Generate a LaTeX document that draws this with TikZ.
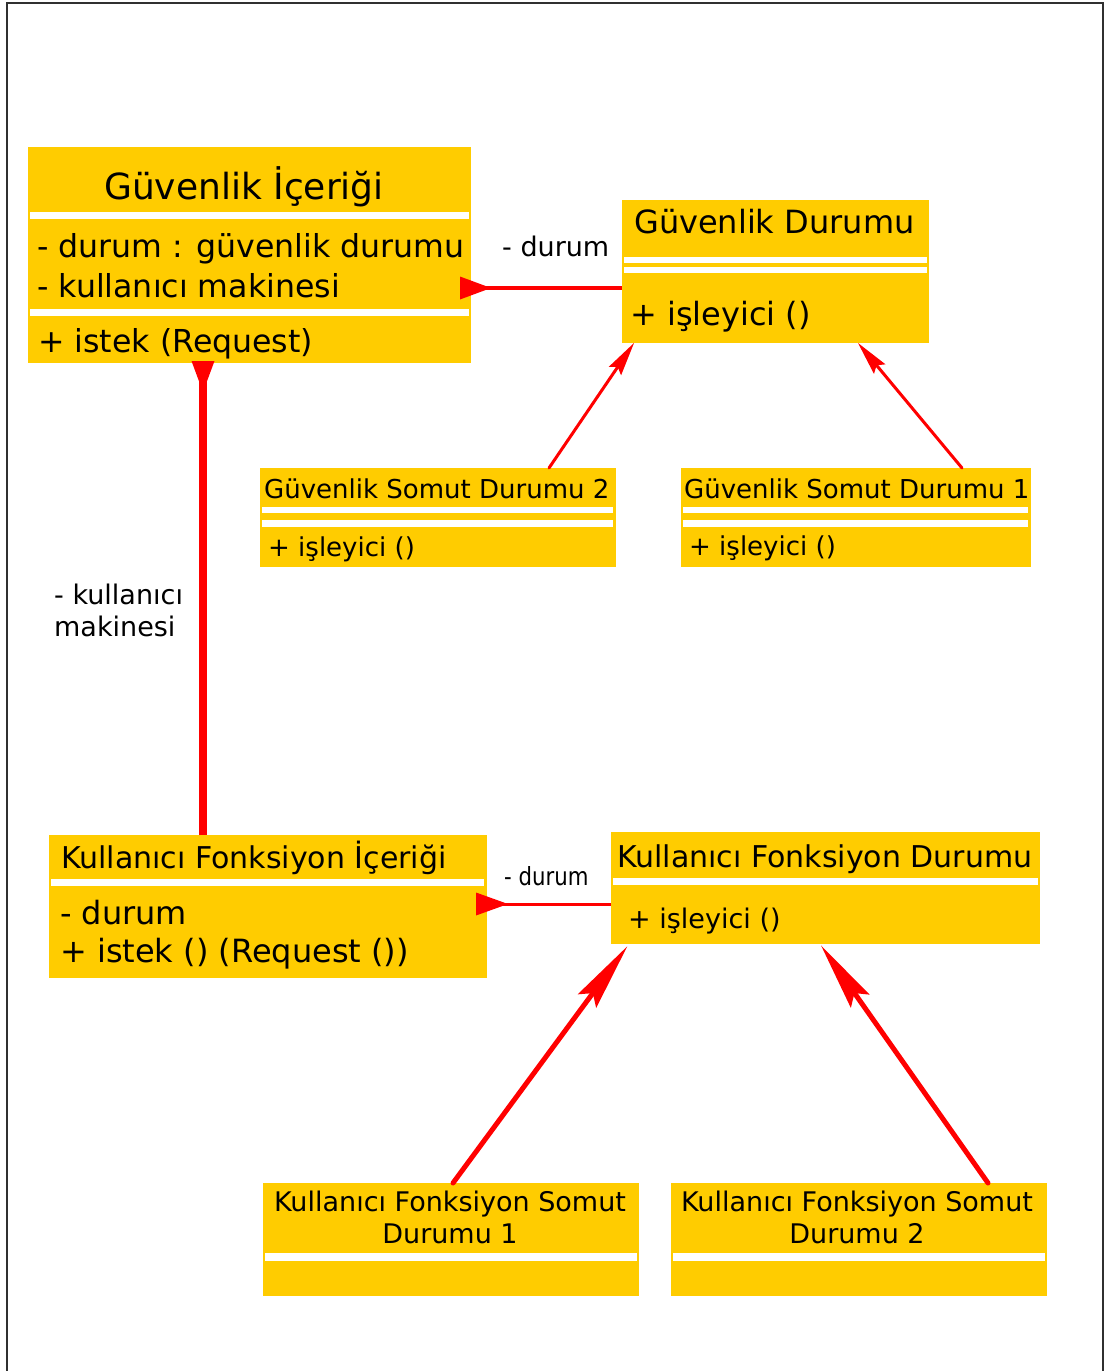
\documentclass[tikz,border=0pt]{standalone}
\usepackage{fontspec}
\setmainfont{DejaVu Sans}
\newfontfamily\condfont[FakeStretch=0.85]{DejaVu Sans}
\usetikzlibrary{arrows.meta,calc}
\definecolor{umlyellow}{HTML}{FFCC00}
\definecolor{umlred}{HTML}{FF0000}
\definecolor{framegray}{HTML}{303030}

% class rectangle: name, x1, y1, x2, y2
\newcommand\classrect[5]{%
  \node[classbox, minimum width={(#4-#2)*1pt}, minimum height={(#5-#3)*1pt}] (#1) at (#2,#3) {};}
% white separator stripe: x1, y1, x2, y2
\newcommand\sepline[4]{\fill[white] (#1,#2) rectangle (#3,#4);}
\newcommand\fs[1]{\fontsize{#1}{#1}\selectfont}

\begin{document}
\begin{tikzpicture}[x=1pt,y=-1pt,
  classbox/.style={fill=umlyellow, draw=none, inner sep=0pt, outer sep=0pt, anchor=north west},
  txt/.style={inner sep=0pt, anchor=base west, text=black},
  ctxt/.style={inner sep=0pt, anchor=base, text=black, align=center},
  assoc/.style={draw=umlred, line cap=butt},
  gen/.style={draw=umlred, line cap=round},
]
\useasboundingbox (0,0) rectangle (1105,1371);
\fill[white] (0,0) rectangle (1105,1371);

% outer frame
\draw[framegray, line width=2pt] (7,1371) -- (7,3) -- (1103,3) -- (1103,1371);

% ---- class rectangles ----
\classrect{b1}{28}{147}{471}{363}
\sepline{30}{212}{469}{219}
\sepline{30}{309}{469}{316}

\classrect{b2}{622}{200}{929}{343}
\sepline{624}{257}{927}{263}
\sepline{624}{267}{927}{273}

\classrect{b3}{260}{468}{616}{567}
\sepline{262}{507}{613}{513}
\sepline{262}{520}{613}{527}

\classrect{b4}{681}{468}{1031}{567}
\sepline{683}{507}{1028}{513}
\sepline{683}{520}{1028}{527}

\classrect{b5}{49}{835}{487}{978}
\sepline{51}{879}{484}{886}

\classrect{b6}{611}{832}{1040}{944}
\sepline{613}{878}{1038}{885}

\classrect{b7}{263}{1183}{639}{1296}
\sepline{265}{1253}{637}{1261}

\classrect{b8}{671}{1183}{1047}{1296}
\sepline{673}{1253}{1045}{1261}

% ---- associations (line, then end marker) ----
\draw[assoc, line width=4pt] (b2.west |- 0,288) -- (b1.east |- 0,288);
\draw[assoc, line width=4pt,
  -{Triangle[reversed, length=31pt, width=23pt, line width=0pt]}, shorten >=-11pt]
  (b2.west |- 0,288) -- (b1.east |- 0,288);
\draw[assoc, line width=8pt] (b5.north -| 203,0) -- (b1.south -| 203,0);
\draw[assoc, line width=8pt,
  -{Triangle[reversed, length=31pt, width=23pt, line width=0pt]}, shorten >=-2pt]
  (b5.north -| 203,0) -- (b1.south -| 203,0);
\draw[assoc, line width=3pt] (b6.west |- 0,904) -- (b5.east |- 0,904);
\draw[assoc, line width=3pt,
  -{Triangle[reversed, length=32pt, width=23pt, line width=0pt]}, shorten >=-11pt]
  (b6.west |- 0,904) -- (b5.east |- 0,904);

% ---- generalizations ----
\draw[gen, line width=3pt,
  -{Stealth[length=34pt, width=15pt, inset=5pt, line width=0pt]}]
  (b3.north -| 549,0) -- (b2.south -| 634,0);
\draw[gen, line width=3pt,
  -{Stealth[length=34pt, width=15pt, inset=5pt, line width=0pt]}]
  (b4.north -| 962,0) -- (b2.south -| 858,0);
\draw[gen, line width=5pt,
  -{Stealth[length=68pt, width=23pt, inset=10pt, line width=0pt]}, shorten >=3pt]
  (b7.north -| 453,0) -- (b6.south -| 629,0);
\draw[gen, line width=5pt,
  -{Stealth[length=68pt, width=23pt, inset=10pt, line width=0pt]}, shorten >=2pt]
  (b8.north -| 988,0) -- (b6.south -| 820,0);

% ---- texts ----
\node[ctxt, font=\fs{36}] (t1) at (244,199) {Güvenlik İçeriği};
\node[txt, font=\fs{31.6}] (a1) at (37,257) {- durum : güvenlik durumu};
\node[txt, font=\fs{31.6}] (a2) at (37,297) {- kullanıcı makinesi};
\node[txt, font=\fs{31.6}] (o1) at (38,352) {+ istek (Request)};

\node[txt, font=\fs{32}] (t2) at (634,233) {Güvenlik Durumu};
\node[txt, font=\fs{32}] (o2) at (630,325) {+ işleyici ()};

\node[txt, font=\fs{26}] (t3) at (264,498) {Güvenlik Somut Durumu 2};
\node[txt, font=\fs{26}] (o3) at (268,556) {+ işleyici ()};

\node[txt, font=\fs{26}] (t4) at (684,498) {Güvenlik Somut Durumu 1};
\node[txt, font=\fs{26}] (o4) at (689,555) {+ işleyici ()};

\node[txt, font=\fs{30}] (t5) at (61,868) {Kullanıcı Fonksiyon İçeriği};
\node[txt, font=\fs{32}] (a5) at (60,924) {- durum};
\node[txt, font=\fs{32}] (o5) at (60,962) {+ istek () (Request ())};

\node[txt, font=\fs{30}] (t6) at (617,867) {Kullanıcı Fonksiyon Durumu};
\node[txt, font=\fs{27}] (o6) at (628,928) {+ işleyici ()};

\node[ctxt, font=\fs{27}] (t7a) at (450,1211) {Kullanıcı Fonksiyon Somut};
\node[ctxt, font=\fs{27}] (t7b) at (450,1243) {Durumu 1};
\node[ctxt, font=\fs{27}] (t8a) at (857,1211) {Kullanıcı Fonksiyon Somut};
\node[ctxt, font=\fs{27}] (t8b) at (857,1243) {Durumu 2};

% ---- role labels ----
\node[txt, font=\fs{27}] (r1) at (502,256) {- durum};
\node[txt, font=\fs{27}] (r2a) at (54,604) {- kullanıcı};
\node[txt, font=\fs{27}] (r2b) at (54,636) {makinesi};
\node[txt, font=\condfont\fs{25}] (r3) at (504,885) {- durum};
\end{tikzpicture}
\end{document}
